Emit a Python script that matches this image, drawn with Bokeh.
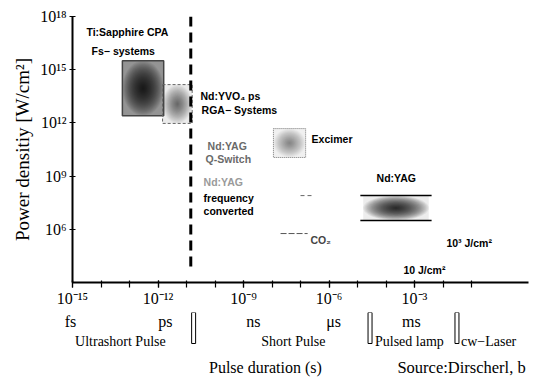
import numpy as np
from bokeh.plotting import figure
from bokeh.models import Range1d, FixedTicker, CustomJSTickFormatter
from bokeh.core.properties import value
from bokeh.embed import file_html
from bokeh.resources import INLINE

# ---- data (log10 exponents) ----
x_major = [-15, -12, -9, -6, -3]
x_minor = list(range(-15, 0))
y_major = [18, 15, 12, 9, 6]
x_lo, x_hi = -15, 1
y_lo, y_hi = 3, 18

# laser regimes: x0, x1 (log10 s), y0, y1 (log10 W/cm2)
box_names = ["Ti:Sapphire", "Nd:YVO4", "Excimer", "Nd:YAG"]
box_x0 = [-13.25, -11.84, -7.95, -4.80]
box_x1 = [-11.80, -10.80, -6.82, -2.50]
box_y0 = [12.40, 11.97, 10.05, 6.50]
box_y1 = [15.50, 14.16, 11.68, 7.90]
box_edge_alpha = [0.42, 0.08, 0.06, 0.07]
box_step_alpha = [0.06, 0.028, 0.02, 0.06]

divider_x = -10.85

co2_x = [-7.70, -6.75]
co2_y = 5.76
freq_x = [-7.00, -6.55]
freq_y = 7.90

in_labels = ["Ti:Sapphire CPA", "Fs\u2212 systems", "Nd:YVO\u2084 ps", "RGA\u2212 Systems",
             "Nd:YAG", "Q-Switch", "Nd:YAG", "frequency", "converted",
             "Excimer", "Nd:YAG", "CO\u2082", "10\u00b3 J/cm\u00b2", "10 J/cm\u00b2"]
in_x = [-14.51, -14.33, -10.51, -10.47, -10.26, -10.33, -10.40, -10.40, -10.40,
        -6.61, -4.33, -6.65, -1.88, -3.39]
in_y = [17.15, 16.08, 13.54, 12.70, 10.72, 9.99, 8.69, 7.79, 7.06,
        11.12, 8.92, 5.37, 5.25, 3.73]
in_colors = ["black", "black", "black", "black", "#6a6a6a", "#6a6a6a", "#9a9a9a", "black", "black",
             "black", "black", "#444444", "black", "black"]

unit_labels = ["fs", "ps", "ns", "\u03bcs", "ms"]
unit_x = [-15.07, -11.74, -8.65, -5.84, -3.11]
regime_labels = ["Ultrashort Pulse", "Short Pulse", "Pulsed lamp", "cw\u2212Laser"]
regime_x = [-13.32, -7.25, -3.18, -0.40]
sep_x = [-10.75, -4.56, -1.51]
xlabel = "Pulse duration (s)"
xlabel_x = -8.23
source_text = "Source:Dirscherl, b"
source_x = -3.6

W = 533
TOP_H = 312
BOT_H = 378 - TOP_H
LEFT, RIGHT = 72, 5

p = figure(width=W, height=TOP_H, x_axis_type="log", y_axis_type="log",
           x_range=Range1d(10.0 ** x_lo, 10.0 ** x_hi), y_range=Range1d(10.0 ** y_lo, 10.0 ** y_hi),
           output_backend="svg", toolbar_location=None,
           min_border_left=LEFT, min_border_right=RIGHT, min_border_top=16, min_border_bottom=30)
p.outline_line_color = None
p.grid.visible = False

fmt = CustomJSTickFormatter(code="""
const sup = {"-":"\u207b","0":"\u2070","1":"\u00b9","2":"\u00b2","3":"\u00b3","4":"\u2074","5":"\u2075","6":"\u2076","7":"\u2077","8":"\u2078","9":"\u2079"};
const e = Math.round(Math.log10(tick));
return "10" + String(e).split("").map(c => sup[c]).join("");
""")

for ax in (p.xaxis[0], p.yaxis[0]):
    ax.formatter = fmt
    ax.axis_line_width = 2
    ax.axis_line_color = "black"
    ax.major_tick_line_width = 1.2
    ax.minor_tick_line_width = 1.2
    ax.major_label_text_font = "Liberation Serif"
    ax.major_label_text_font_size = "16px"
    ax.major_label_text_color = "black"

p.xaxis.ticker = FixedTicker(ticks=[10.0 ** e for e in x_major], minor_ticks=[10.0 ** e for e in x_minor])
p.xaxis.major_tick_in = 2
p.xaxis.major_tick_out = 5
p.xaxis.minor_tick_in = 2
p.xaxis.minor_tick_out = 5
p.xaxis.major_label_standoff = 2

p.yaxis.ticker = FixedTicker(ticks=[10.0 ** e for e in y_major], minor_ticks=[])
p.yaxis.major_tick_in = 3
p.yaxis.major_tick_out = 3
p.yaxis.major_label_standoff = 3
p.yaxis.axis_label = "Power densitiy [W/cm\u00b2]"
p.yaxis.axis_label_text_font = "Liberation Serif"
p.yaxis.axis_label_text_font_size = "19px"
p.yaxis.axis_label_text_font_style = "normal"
p.yaxis.axis_label_text_color = "black"
p.yaxis.axis_label_standoff = 4

# ---- gradient boxes (nested ellipses inside each box) ----
steps = 26
t = np.linspace(0, 2 * np.pi, 60)
for i in range(len(box_names)):
    cx = (box_x0[i] + box_x1[i]) / 2
    cy = (box_y0[i] + box_y1[i]) / 2
    hx = (box_x1[i] - box_x0[i]) / 2
    hy = (box_y1[i] - box_y0[i]) / 2
    p.quad(left=10 ** box_x0[i], right=10 ** box_x1[i], bottom=10 ** box_y0[i], top=10 ** box_y1[i],
           fill_color="black", fill_alpha=box_edge_alpha[i], line_color=None)
    xs, ys = [], []
    for k in range(steps):
        f = 1.0 - k / steps
        xs.append(list(10 ** (cx + hx * f * np.cos(t))))
        ys.append(list(10 ** (cy + hy * f * np.sin(t))))
    p.patches(xs=xs, ys=ys, fill_color="black", fill_alpha=box_step_alpha[i], line_color=None)

# borders
p.quad(left=10 ** box_x0[0], right=10 ** box_x1[0], bottom=10 ** box_y0[0], top=10 ** box_y1[0],
       fill_color=None, line_color="#444444", line_width=1.5)
p.quad(left=10 ** box_x0[1], right=10 ** box_x1[1], bottom=10 ** box_y0[1], top=10 ** box_y1[1],
       fill_color=None, line_color="#666666", line_width=1, line_dash="3 2")
p.quad(left=10 ** box_x0[2], right=10 ** box_x1[2], bottom=10 ** box_y0[2], top=10 ** box_y1[2],
       fill_color=None, line_color="#777777", line_width=1, line_dash="1 1")
p.segment(x0=[10 ** (box_x0[3] - 0.1)] * 2, x1=[10 ** (box_x1[3] + 0.1)] * 2,
          y0=[10 ** box_y0[3], 10 ** box_y1[3]], y1=[10 ** box_y0[3], 10 ** box_y1[3]],
          line_color="black", line_width=1.5)

# faint marks
p.line(x=[10 ** v for v in co2_x], y=[10 ** co2_y] * 2, line_color="#555555", line_width=1, line_dash="6 2")
p.line(x=[10 ** v for v in freq_x], y=[10 ** freq_y] * 2, line_color="#666666", line_width=1, line_dash="4 3")

# dashed divider
p.line(x=[10 ** divider_x] * 2, y=[10.0 ** y_hi, 10 ** 3.56], line_color="black", line_width=3, line_dash="10 6")

# in-frame labels
p.text(x=[10 ** v for v in in_x], y=[10 ** v for v in in_y], text=in_labels,
       text_font=value("Liberation Sans"), text_font_style="bold", text_font_size="10.5px",
       text_color=in_colors, text_baseline="middle", text_align="left")

# ---- lower strip: same log scale, extended to the left page edge ----
per_dec = (W - LEFT - RIGHT) / (x_hi - x_lo)
q_lo = x_lo - LEFT / per_dec
q = figure(width=W, height=BOT_H, x_axis_type="log", x_range=Range1d(10.0 ** q_lo, 10.0 ** x_hi),
           y_range=Range1d(BOT_H, 0),
           output_backend="svg", toolbar_location=None, x_axis_location=None, y_axis_location=None,
           min_border_left=0, min_border_right=RIGHT, min_border_top=0, min_border_bottom=0)
q.outline_line_color = None
q.grid.visible = False

q.text(x=[10 ** v for v in unit_x], y=[9] * len(unit_x), text=unit_labels,
       text_font=value("Liberation Serif"), text_font_size="16px", text_color="black",
       text_align="center", text_baseline="middle")
q.text(x=[10 ** v for v in regime_x], y=[29] * len(regime_x), text=regime_labels,
       text_font=value("Liberation Serif"), text_font_size="14px", text_color="black",
       text_align="center", text_baseline="middle")
q.quad(left=[10 ** (v - 0.07) for v in sep_x], right=[10 ** (v + 0.07) for v in sep_x],
       top=[0] * len(sep_x), bottom=[31] * len(sep_x),
       fill_color="white", line_color="black", line_width=1)
q.text(x=[10 ** xlabel_x], y=[55], text=[xlabel],
       text_font=value("Liberation Serif"), text_font_size="16px", text_color="black",
       text_align="center", text_baseline="middle")
q.text(x=[10 ** source_x], y=[55], text=[source_text],
       text_font=value("Liberation Serif"), text_font_size="16.5px", text_color="black",
       text_align="left", text_baseline="middle")

open("out.html", "w").write(file_html([p, q], INLINE))
